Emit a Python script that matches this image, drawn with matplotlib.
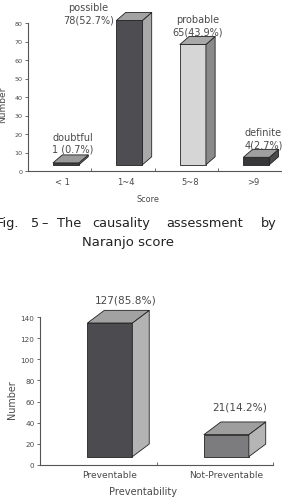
import numpy as np
import matplotlib.pyplot as plt
from matplotlib.patches import Polygon

# ------------------------------------------------------------
# data
# ------------------------------------------------------------
score_cats = ["< 1", "1~4", "5~8", ">9"]
score_names = ["doubtful", "possible", "probable", "definite"]
score_counts = [1, 78, 65, 4]
score_pcts = ["0.7", "52.7", "43.9", "2.7"]

prev_cats = ["Preventable", "Not-Preventable"]
prev_counts = [127, 21]
prev_pcts = ["85.8", "14.2"]

caption_words = ["Fig.", "5", "\u2013", "The", "causality", "assessment", "by"]
caption_line2 = "Naranjo score"

W, H = 282, 502
fig = plt.figure(figsize=(W / 100, H / 100), dpi=100)
plt.rcParams["font.family"] = "DejaVu Sans"

txt = "#4a4a4a"
edge = "#222222"


def px(x, y):
    return x / W, 1 - y / H


def bar3d(ax, x, base, h, w, dx, dy, front, side, top):
    l, r = x - w / 2, x + w / 2
    kw = dict(edgecolor=edge, linewidth=0.6, clip_on=False, joinstyle="round")
    ax.add_patch(Polygon([(l, base), (r, base), (r, base + h), (l, base + h)],
                         facecolor=front, **kw))
    ax.add_patch(Polygon([(r, base), (r + dx, base + dy), (r + dx, base + h + dy),
                          (r, base + h)], facecolor=side, **kw))
    ax.add_patch(Polygon([(l, base + h), (r, base + h), (r + dx, base + h + dy),
                          (l + dx, base + h + dy)], facecolor=top, **kw))


def style_axes(ax):
    for s in ["top", "right"]:
        ax.spines[s].set_visible(False)
    for s in ["left", "bottom"]:
        ax.spines[s].set_color("#555555")
        ax.spines[s].set_linewidth(0.8)
    ax.tick_params(axis="y", length=2, width=0.6, colors="#555555",
                   labelcolor=txt, pad=2)
    ax.tick_params(axis="x", which="major", length=0, labelcolor=txt, pad=4)
    ax.tick_params(axis="x", which="minor", length=2, width=0.6,
                   colors="#555555", direction="in")


# ------------------------------------------------------------
# top chart: Naranjo score
# ------------------------------------------------------------
x0, y0 = px(28, 172)
x1, y1 = px(283, 24)
ax1 = fig.add_axes([x0, y0, x1 - x0, y1 - y0])
ax1.set_xlim(-0.5, 3.52)
ax1.set_ylim(0, 80)
ax1.set_yticks(np.arange(0, 81, 10))
ax1.set_xticks(np.arange(len(score_cats)) + 0.05)
ax1.set_xticklabels(score_cats, fontsize=6)
ax1.set_xticks([0.5, 1.5, 2.5, 3.5], minor=True)
ax1.tick_params(axis="y", labelsize=4.6)
style_axes(ax1)

fronts = ["#3f3f43", "#4d4d52", "#d6d6d6", "#38383a"]
sides = ["#8c8c8c", "#a9a9a9", "#8a8a8a", "#4a4a4a"]
tops = ["#9a9a9a", "#a3a3a3", "#a8a8a8", "#a0a0a0"]
for i, n in enumerate(score_counts):
    bar3d(ax1, i + 0.1, 3.4, n, 0.41, 0.145, 4.3, fronts[i], sides[i], tops[i])

lab_pos = [(0.2, 18.5, "center"), (0.45, 88.5, "center"), (2.17, 82.0, "center"),
           (2.91, 21.0, "left")]
for i, (n, p) in enumerate(zip(score_counts, score_pcts)):
    sep = " " if i == 0 else ""
    lx, ly, ha = lab_pos[i]
    ax1.text(lx, ly, score_names[i], fontsize=7, color=txt, ha=ha, va="center",
             clip_on=False)
    ax1.text(lx, ly - 6.6, f"{n}{sep}({p}%)", fontsize=7, color=txt, ha=ha,
             va="center", clip_on=False)

fig.text(*px(148, 200), "Score", fontsize=5.8, color=txt, ha="center", va="center")
fig.text(*px(3, 105), "Number", fontsize=6.5, color=txt, ha="center", va="center",
         rotation=90)

# caption, word by word (the original is widely spaced)
word_x = [-3, 31, 41, 57, 92, 166, 261]
for wd, wx in zip(caption_words, word_x):
    fig.text(*px(wx, 227), wd, fontsize=9.3, color="#222222", ha="left",
             va="baseline")
fig.text(*px(128, 246), caption_line2, fontsize=9.5, color="#222222",
         ha="center", va="baseline")

# ------------------------------------------------------------
# bottom chart: preventability
# ------------------------------------------------------------
x0, y0 = px(40, 465.7)
x1, y1 = px(273, 318.3)
ax2 = fig.add_axes([x0, y0, x1 - x0, y1 - y0])
ax2.set_xlim(-0.5, 1.5)
ax2.set_ylim(0, 140)
ax2.set_yticks(np.arange(0, 141, 20))
ax2.set_xticks(np.arange(len(prev_cats)) + 0.1)
ax2.set_xticklabels(prev_cats, fontsize=6.6)
ax2.set_xticks([0.5, 1.5], minor=True)
ax2.tick_params(axis="y", labelsize=5.2)
style_axes(ax2)

fronts2 = ["#4b4b50", "#7c7c7e"]
sides2 = ["#b3b3b3", "#b5b5b5"]
tops2 = ["#a2a2a2", "#9e9e9e"]
for i, n in enumerate(prev_counts):
    bar3d(ax2, i + 0.1, 7.6, n, 0.385, 0.145, 12.0, fronts2[i], sides2[i], tops2[i])

lab_pad = [10.5, 15.0]
lab_dx = [0.24, 0.21]
for i, (n, p) in enumerate(zip(prev_counts, prev_pcts)):
    ax2.text(i + lab_dx[i], 7.6 + n + 12.0 + lab_pad[i], f"{n}({p}%)",
             fontsize=7.6, color=txt, ha="center", va="center", clip_on=False)

fig.text(*px(12, 400), "Number", fontsize=6.9, color=txt, ha="center", va="center",
         rotation=90)
fig.text(*px(143, 492), "Preventability", fontsize=7.1, color=txt,
         ha="center", va="center")

fig.savefig("out.png", dpi=100)
